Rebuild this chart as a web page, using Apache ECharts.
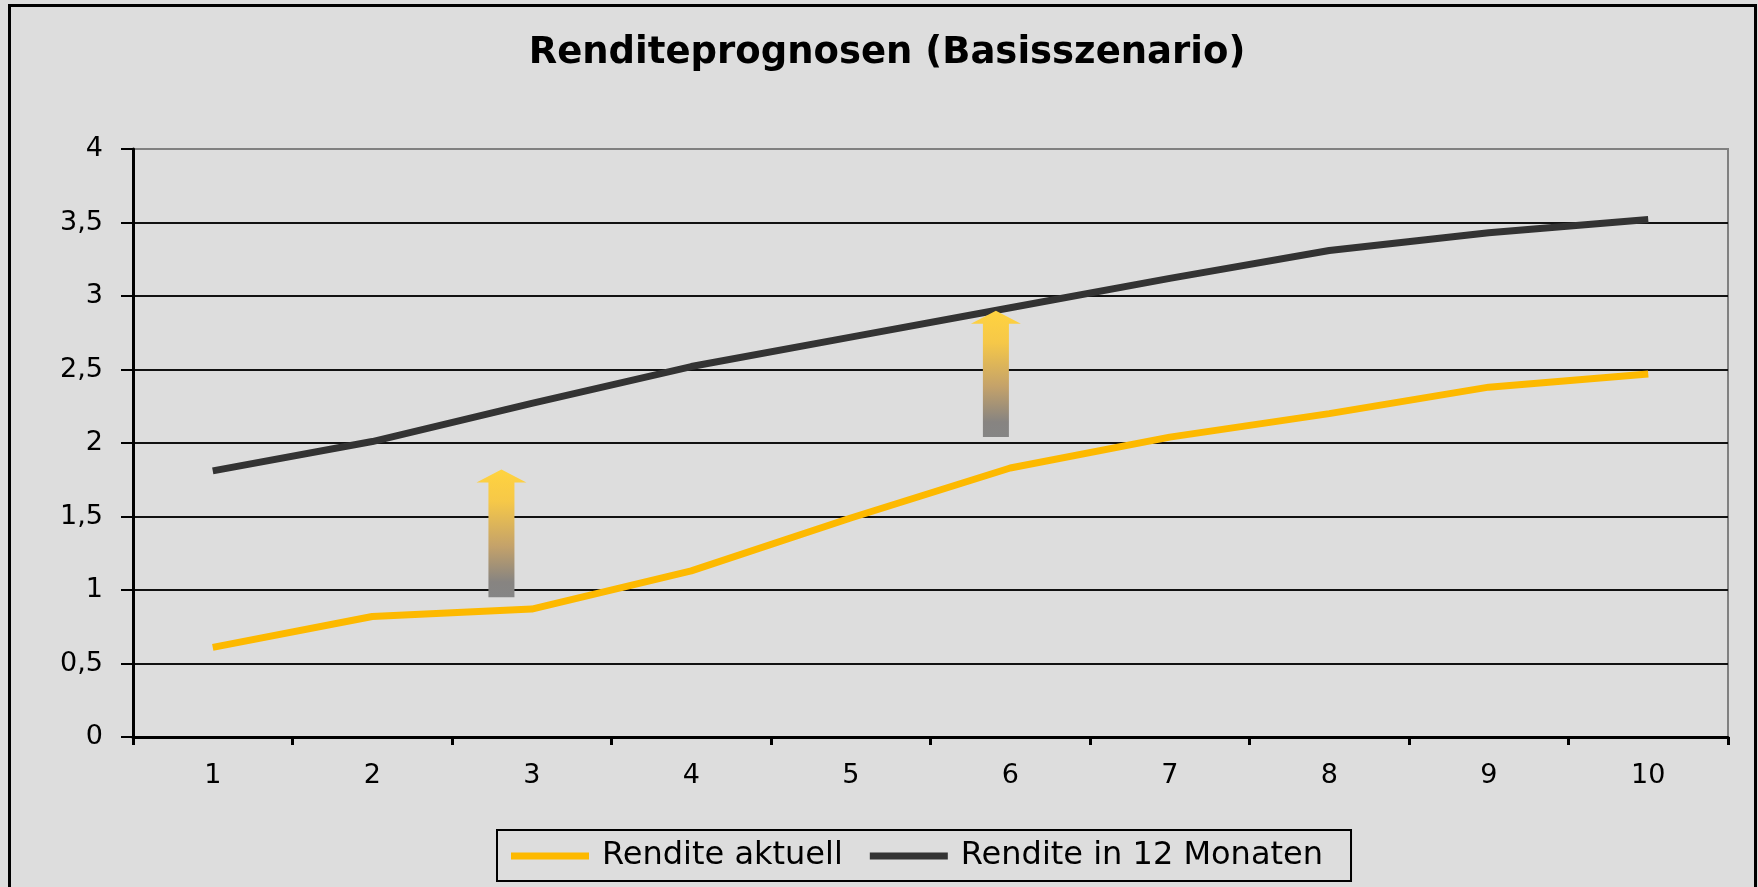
<!DOCTYPE html>
<html>
<head>
<meta charset="utf-8">
<script src="https://cdn.jsdelivr.net/npm/echarts@6/dist/echarts.min.js"></script>
<style>
html,body{margin:0;padding:0;background:#DDDDDD;}
#chart{width:1758px;height:887px;}
</style>
</head>
<body>
<div id="chart"></div>
<script>
// ---- data ----
var categories = ['1','2','3','4','5','6','7','8','9','10'];
var renditeAktuell = [0.61, 0.82, 0.87, 1.13, 1.49, 1.83, 2.04, 2.20, 2.38, 2.47];
var rendite12M = [1.81, 2.01, 2.27, 2.52, 2.72, 2.92, 3.12, 3.31, 3.43, 3.52];
var yTicks = [0, 0.5, 1, 1.5, 2, 2.5, 3, 3.5, 4];
// arrows: [x position on category scale (1..10), from value, to value]
var arrowX = [2.81, 5.91];
var arrowFrom = [0.95, 2.04];
var arrowTo = [1.82, 2.90];

var seriesNames = ['Rendite aktuell', 'Rendite in 12 Monaten'];
var FONT = '"DejaVu Sans", "Liberation Sans", Arial, sans-serif';

var arrowData = arrowX.map(function (x, i) { return [x, arrowFrom[i], arrowTo[i]]; });

var gridColors = yTicks.map(function (v, i) { return i === yTicks.length - 1 ? '#808080' : '#111111'; });

var chart = echarts.init(document.getElementById('chart'));
chart.setOption({
  animation: false,
  backgroundColor: '#DDDDDD',
  title: {
    text: 'Renditeprognosen (Basisszenario)',
    left: 887,
    top: 35,
    padding: 0,
    textAlign: 'center',
    textStyle: { fontFamily: FONT, fontSize: 37, fontWeight: 'bold', color: '#000' }
  },
  graphic: [{
    type: 'rect',
    shape: { x: 9.5, y: 5.5, width: 1746, height: 1000 },
    style: { fill: 'none', stroke: '#000', lineWidth: 3 },
    silent: true,
    z: 100
  }],
  legend: {
    data: seriesNames,
    left: 497,
    top: 830,
    orient: 'horizontal',
    icon: 'rect',
    itemWidth: 78,
    itemHeight: 7,
    itemGap: 27,
    padding: [10, 28, 9, 14],
    borderColor: '#000',
    borderWidth: 2,
    textStyle: { fontFamily: FONT, fontSize: 32, color: '#000', padding: [0, 0, 0, 8] }
  },
  grid: {
    left: 133, right: 30, top: 149, bottom: 150,
    show: true,
    borderColor: '#808080',
    borderWidth: 2,
    backgroundColor: 'transparent'
  },
  xAxis: [{
    type: 'category',
    data: categories,
    boundaryGap: true,
    axisLine: { lineStyle: { color: '#000', width: 3 } },
    axisTick: { show: true, length: 8, lineStyle: { color: '#000', width: 3 } },
    axisLabel: { fontFamily: FONT, fontSize: 27, color: '#000', margin: 25 },
    splitLine: { show: false }
  }, {
    type: 'value',
    min: 0.5,
    max: 10.5,
    show: false
  }],
  yAxis: {
    type: 'value',
    min: 0,
    max: 4,
    interval: 0.5,
    axisLine: { show: true, lineStyle: { color: '#000', width: 3 } },
    axisTick: { show: true, length: 12, lineStyle: { color: '#000', width: 2 } },
    axisLabel: {
      fontFamily: FONT, fontSize: 27, color: '#000', margin: 30,
      formatter: function (v) { return String(v).replace('.', ','); }
    },
    splitLine: { show: true, lineStyle: { color: gridColors, width: 2 } }
  },
  series: [{
    name: seriesNames[0],
    type: 'line',
    data: renditeAktuell,
    showSymbol: false,
    symbol: 'none',
    lineStyle: { color: '#FDB900', width: 7 },
    itemStyle: { color: '#FDB900' },
    z: 3
  }, {
    name: seriesNames[1],
    type: 'line',
    data: rendite12M,
    showSymbol: false,
    symbol: 'none',
    lineStyle: { color: '#333333', width: 7 },
    itemStyle: { color: '#333333' },
    z: 3
  }, {
    name: 'arrows',
    type: 'custom',
    xAxisIndex: 1,
    yAxisIndex: 0,
    data: arrowData,
    z: 5,
    silent: true,
    renderItem: function (params, api) {
      var pb = api.coord([api.value(0), api.value(1)]);
      var pt = api.coord([api.value(0), api.value(2)]);
      var x = pb[0], yb = pb[1], yt = pt[1];
      var sw = 13, hw = 25, hh = 13;
      return {
        type: 'polygon',
        shape: {
          points: [[x - sw, yb], [x - sw, yt + hh], [x - hw, yt + hh], [x, yt],
                   [x + hw, yt + hh], [x + sw, yt + hh], [x + sw, yb]]
        },
        style: {
          fill: new echarts.graphic.LinearGradient(0, 0, 0, 1, [
            { offset: 0, color: '#FFD33F' },
            { offset: 0.25, color: '#F6C848' },
            { offset: 0.6, color: '#C4A26A' },
            { offset: 0.88, color: '#878481' },
            { offset: 1, color: '#858585' }
          ]),
          stroke: 'none'
        }
      };
    }
  }]
});
</script>
</body>
</html>
